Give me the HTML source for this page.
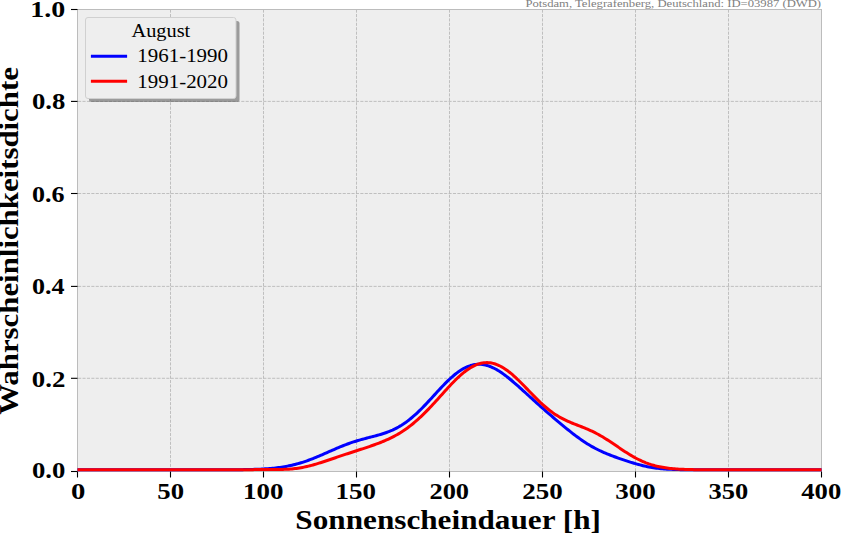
<!DOCTYPE html>
<html><head><meta charset="utf-8"><style>
html,body{margin:0;padding:0;background:#fff;width:841px;height:533px;overflow:hidden}
svg{display:block;position:absolute;left:0;top:0}
text{font-family:"Liberation Serif",serif}
</style></head><body>
<svg width="841" height="533" viewBox="0 0 841 533">
<rect x="0" y="0" width="841" height="533" fill="#ffffff"/>
<rect x="77.5" y="9.5" width="744" height="462" fill="#eeeeee"/>
<g stroke="#b2b2b2" stroke-width="0.8" stroke-dasharray="3.08,1.33" fill="none">
<line x1="170.5" y1="471.3" x2="170.5" y2="10" />
<line x1="263.5" y1="471.3" x2="263.5" y2="10" />
<line x1="356.5" y1="471.3" x2="356.5" y2="10" />
<line x1="449.5" y1="471.3" x2="449.5" y2="10" />
<line x1="542.5" y1="471.3" x2="542.5" y2="10" />
<line x1="635.5" y1="471.3" x2="635.5" y2="10" />
<line x1="728.5" y1="471.3" x2="728.5" y2="10" />
<line x1="78.1" y1="378.3" x2="821" y2="378.3" />
<line x1="78.1" y1="286.4" x2="821" y2="286.4" />
<line x1="78.1" y1="193.5" x2="821" y2="193.5" />
<line x1="78.1" y1="101.4" x2="821" y2="101.4" />
</g>
<rect x="77.5" y="9.5" width="744" height="462" fill="none" stroke="#bcbcbc" stroke-width="1"/>
<g stroke="#000" stroke-width="1.1">
<line x1="77.5" y1="471.5" x2="77.5" y2="477.5" />
<line x1="170.5" y1="471.5" x2="170.5" y2="477.5" />
<line x1="263.5" y1="471.5" x2="263.5" y2="477.5" />
<line x1="356.5" y1="471.5" x2="356.5" y2="477.5" />
<line x1="449.5" y1="471.5" x2="449.5" y2="477.5" />
<line x1="542.5" y1="471.5" x2="542.5" y2="477.5" />
<line x1="635.5" y1="471.5" x2="635.5" y2="477.5" />
<line x1="728.5" y1="471.5" x2="728.5" y2="477.5" />
<line x1="821.5" y1="471.5" x2="821.5" y2="477.5" />
<line x1="71" y1="471.5" x2="77.5" y2="471.5" />
<line x1="71" y1="378.3" x2="77.5" y2="378.3" />
<line x1="71" y1="286.4" x2="77.5" y2="286.4" />
<line x1="71" y1="193.5" x2="77.5" y2="193.5" />
<line x1="71" y1="101.4" x2="77.5" y2="101.4" />
<line x1="71" y1="9.5" x2="77.5" y2="9.5" />
</g>
<path d="M77.5,469.80 L79.0,469.80 L80.5,469.80 L82.0,469.80 L83.5,469.80 L85.0,469.80 L86.5,469.80 L88.0,469.80 L89.5,469.80 L91.0,469.80 L92.5,469.80 L94.0,469.80 L95.5,469.80 L97.0,469.80 L98.5,469.80 L100.0,469.80 L101.5,469.80 L103.0,469.80 L104.5,469.80 L106.0,469.80 L107.5,469.80 L109.0,469.80 L110.5,469.80 L112.0,469.80 L113.5,469.80 L115.0,469.80 L116.5,469.80 L118.0,469.80 L119.5,469.80 L121.0,469.80 L122.5,469.80 L124.0,469.80 L125.5,469.80 L127.0,469.80 L128.5,469.80 L130.0,469.80 L131.5,469.80 L133.0,469.80 L134.5,469.80 L136.0,469.80 L137.5,469.80 L139.0,469.80 L140.5,469.80 L142.0,469.80 L143.5,469.80 L145.0,469.80 L146.5,469.80 L148.0,469.80 L149.5,469.80 L151.0,469.80 L152.5,469.80 L154.0,469.80 L155.5,469.80 L157.0,469.80 L158.5,469.80 L160.0,469.80 L161.5,469.80 L163.0,469.80 L164.5,469.80 L166.0,469.80 L167.5,469.80 L169.0,469.80 L170.5,469.80 L172.0,469.80 L173.5,469.80 L175.0,469.80 L176.5,469.80 L178.0,469.80 L179.5,469.80 L181.0,469.80 L182.5,469.80 L184.0,469.80 L185.5,469.80 L187.0,469.80 L188.5,469.80 L190.0,469.80 L191.5,469.80 L193.0,469.80 L194.5,469.80 L196.0,469.80 L197.5,469.80 L199.0,469.80 L200.5,469.80 L202.0,469.80 L203.5,469.80 L205.0,469.80 L206.5,469.80 L208.0,469.79 L209.5,469.79 L211.0,469.79 L212.5,469.79 L214.0,469.79 L215.5,469.79 L217.0,469.79 L218.5,469.78 L220.0,469.78 L221.5,469.78 L223.0,469.77 L224.5,469.77 L226.0,469.76 L227.5,469.76 L229.0,469.75 L230.5,469.74 L232.0,469.74 L233.5,469.73 L235.0,469.72 L236.5,469.70 L238.0,469.69 L239.5,469.67 L241.0,469.66 L242.5,469.64 L244.0,469.62 L245.5,469.59 L247.0,469.56 L248.5,469.53 L250.0,469.50 L251.5,469.46 L253.0,469.42 L254.5,469.37 L256.0,469.32 L257.5,469.26 L259.0,469.20 L260.5,469.13 L262.0,469.05 L263.5,468.96 L265.0,468.87 L266.5,468.77 L268.0,468.66 L269.5,468.54 L271.0,468.41 L272.5,468.27 L274.0,468.12 L275.5,467.96 L277.0,467.78 L278.5,467.59 L280.0,467.38 L281.5,467.16 L283.0,466.93 L284.5,466.68 L286.0,466.41 L287.5,466.13 L289.0,465.83 L290.5,465.51 L292.0,465.18 L293.5,464.82 L295.0,464.45 L296.5,464.06 L298.0,463.65 L299.5,463.22 L301.0,462.77 L302.5,462.31 L304.0,461.82 L305.5,461.32 L307.0,460.80 L308.5,460.26 L310.0,459.71 L311.5,459.14 L313.0,458.56 L314.5,457.96 L316.0,457.35 L317.5,456.73 L319.0,456.10 L320.5,455.45 L322.0,454.81 L323.5,454.15 L325.0,453.49 L326.5,452.83 L328.0,452.16 L329.5,451.49 L331.0,450.83 L332.5,450.17 L334.0,449.51 L335.5,448.86 L337.0,448.22 L338.5,447.58 L340.0,446.96 L341.5,446.34 L343.0,445.74 L344.5,445.15 L346.0,444.58 L347.5,444.02 L349.0,443.47 L350.5,442.95 L352.0,442.43 L353.5,441.94 L355.0,441.45 L356.5,440.99 L358.0,440.53 L359.5,440.09 L361.0,439.67 L362.5,439.25 L364.0,438.84 L365.5,438.45 L367.0,438.05 L368.5,437.67 L370.0,437.28 L371.5,436.90 L373.0,436.51 L374.5,436.12 L376.0,435.72 L377.5,435.30 L379.0,434.88 L380.5,434.44 L382.0,433.98 L383.5,433.50 L385.0,433.00 L386.5,432.47 L388.0,431.91 L389.5,431.32 L391.0,430.70 L392.5,430.04 L394.0,429.34 L395.5,428.60 L397.0,427.82 L398.5,427.00 L400.0,426.13 L401.5,425.22 L403.0,424.26 L404.5,423.25 L406.0,422.20 L407.5,421.09 L409.0,419.95 L410.5,418.75 L412.0,417.51 L413.5,416.23 L415.0,414.90 L416.5,413.53 L418.0,412.13 L419.5,410.68 L421.0,409.20 L422.5,407.69 L424.0,406.16 L425.5,404.59 L427.0,403.00 L428.5,401.40 L430.0,399.78 L431.5,398.15 L433.0,396.51 L434.5,394.87 L436.0,393.23 L437.5,391.59 L439.0,389.97 L440.5,388.36 L442.0,386.77 L443.5,385.20 L445.0,383.66 L446.5,382.16 L448.0,380.69 L449.5,379.26 L451.0,377.87 L452.5,376.54 L454.0,375.26 L455.5,374.03 L457.0,372.87 L458.5,371.76 L460.0,370.73 L461.5,369.76 L463.0,368.87 L464.5,368.05 L466.0,367.30 L467.5,366.64 L469.0,366.05 L470.5,365.55 L472.0,365.13 L473.5,364.79 L475.0,364.54 L476.5,364.37 L478.0,364.28 L479.5,364.27 L481.0,364.35 L482.5,364.51 L484.0,364.75 L485.5,365.07 L487.0,365.46 L488.5,365.93 L490.0,366.47 L491.5,367.08 L493.0,367.76 L494.5,368.50 L496.0,369.30 L497.5,370.16 L499.0,371.08 L500.5,372.04 L502.0,373.06 L503.5,374.12 L505.0,375.22 L506.5,376.36 L508.0,377.54 L509.5,378.75 L511.0,379.98 L512.5,381.24 L514.0,382.53 L515.5,383.83 L517.0,385.15 L518.5,386.48 L520.0,387.82 L521.5,389.17 L523.0,390.53 L524.5,391.89 L526.0,393.25 L527.5,394.62 L529.0,395.99 L530.5,397.35 L532.0,398.71 L533.5,400.07 L535.0,401.42 L536.5,402.77 L538.0,404.12 L539.5,405.46 L541.0,406.79 L542.5,408.12 L544.0,409.44 L545.5,410.76 L547.0,412.07 L548.5,413.37 L550.0,414.67 L551.5,415.96 L553.0,417.25 L554.5,418.53 L556.0,419.81 L557.5,421.08 L559.0,422.34 L560.5,423.60 L562.0,424.85 L563.5,426.09 L565.0,427.32 L566.5,428.54 L568.0,429.75 L569.5,430.95 L571.0,432.14 L572.5,433.31 L574.0,434.46 L575.5,435.60 L577.0,436.72 L578.5,437.82 L580.0,438.89 L581.5,439.94 L583.0,440.97 L584.5,441.98 L586.0,442.95 L587.5,443.90 L589.0,444.83 L590.5,445.72 L592.0,446.59 L593.5,447.42 L595.0,448.23 L596.5,449.02 L598.0,449.77 L599.5,450.50 L601.0,451.21 L602.5,451.89 L604.0,452.55 L605.5,453.20 L607.0,453.82 L608.5,454.43 L610.0,455.02 L611.5,455.59 L613.0,456.16 L614.5,456.72 L616.0,457.26 L617.5,457.80 L619.0,458.33 L620.5,458.85 L622.0,459.37 L623.5,459.88 L625.0,460.38 L626.5,460.88 L628.0,461.37 L629.5,461.85 L631.0,462.32 L632.5,462.78 L634.0,463.24 L635.5,463.68 L637.0,464.10 L638.5,464.52 L640.0,464.92 L641.5,465.30 L643.0,465.67 L644.5,466.02 L646.0,466.35 L647.5,466.66 L649.0,466.96 L650.5,467.23 L652.0,467.49 L653.5,467.73 L655.0,467.95 L656.5,468.15 L658.0,468.34 L659.5,468.51 L661.0,468.66 L662.5,468.80 L664.0,468.92 L665.5,469.04 L667.0,469.14 L668.5,469.23 L670.0,469.30 L671.5,469.37 L673.0,469.43 L674.5,469.49 L676.0,469.53 L677.5,469.57 L679.0,469.61 L680.5,469.64 L682.0,469.66 L683.5,469.68 L685.0,469.70 L686.5,469.72 L688.0,469.73 L689.5,469.74 L691.0,469.75 L692.5,469.76 L694.0,469.77 L695.5,469.77 L697.0,469.78 L698.5,469.78 L700.0,469.78 L701.5,469.79 L703.0,469.79 L704.5,469.79 L706.0,469.79 L707.5,469.79 L709.0,469.79 L710.5,469.80 L712.0,469.80 L713.5,469.80 L715.0,469.80 L716.5,469.80 L718.0,469.80 L719.5,469.80 L721.0,469.80 L722.5,469.80 L724.0,469.80 L725.5,469.80 L727.0,469.80 L728.5,469.80 L730.0,469.80 L731.5,469.80 L733.0,469.80 L734.5,469.80 L736.0,469.80 L737.5,469.80 L739.0,469.80 L740.5,469.80 L742.0,469.80 L743.5,469.80 L745.0,469.80 L746.5,469.80 L748.0,469.80 L749.5,469.80 L751.0,469.80 L752.5,469.80 L754.0,469.80 L755.5,469.80 L757.0,469.80 L758.5,469.80 L760.0,469.80 L761.5,469.80 L763.0,469.80 L764.5,469.80 L766.0,469.80 L767.5,469.80 L769.0,469.80 L770.5,469.80 L772.0,469.80 L773.5,469.80 L775.0,469.80 L776.5,469.80 L778.0,469.80 L779.5,469.80 L781.0,469.80 L782.5,469.80 L784.0,469.80 L785.5,469.80 L787.0,469.80 L788.5,469.80 L790.0,469.80 L791.5,469.80 L793.0,469.80 L794.5,469.80 L796.0,469.80 L797.5,469.80 L799.0,469.80 L800.5,469.80 L802.0,469.80 L803.5,469.80 L805.0,469.80 L806.5,469.80 L808.0,469.80 L809.5,469.80 L811.0,469.80 L812.5,469.80 L814.0,469.80 L815.5,469.80 L817.0,469.80 L818.5,469.80 L820.0,469.80 L821.5,469.80" fill="none" stroke="#0000ff" stroke-width="3" stroke-linejoin="round"/>
<path d="M77.5,469.80 L79.0,469.80 L80.5,469.80 L82.0,469.80 L83.5,469.80 L85.0,469.80 L86.5,469.80 L88.0,469.80 L89.5,469.80 L91.0,469.80 L92.5,469.80 L94.0,469.80 L95.5,469.80 L97.0,469.80 L98.5,469.80 L100.0,469.80 L101.5,469.80 L103.0,469.80 L104.5,469.80 L106.0,469.80 L107.5,469.80 L109.0,469.80 L110.5,469.80 L112.0,469.80 L113.5,469.80 L115.0,469.80 L116.5,469.80 L118.0,469.80 L119.5,469.80 L121.0,469.80 L122.5,469.80 L124.0,469.80 L125.5,469.80 L127.0,469.80 L128.5,469.80 L130.0,469.80 L131.5,469.80 L133.0,469.80 L134.5,469.80 L136.0,469.80 L137.5,469.80 L139.0,469.80 L140.5,469.80 L142.0,469.80 L143.5,469.80 L145.0,469.80 L146.5,469.80 L148.0,469.80 L149.5,469.80 L151.0,469.80 L152.5,469.80 L154.0,469.80 L155.5,469.80 L157.0,469.80 L158.5,469.80 L160.0,469.80 L161.5,469.80 L163.0,469.80 L164.5,469.80 L166.0,469.80 L167.5,469.80 L169.0,469.80 L170.5,469.80 L172.0,469.80 L173.5,469.80 L175.0,469.80 L176.5,469.80 L178.0,469.80 L179.5,469.80 L181.0,469.80 L182.5,469.80 L184.0,469.80 L185.5,469.80 L187.0,469.80 L188.5,469.80 L190.0,469.80 L191.5,469.80 L193.0,469.80 L194.5,469.80 L196.0,469.80 L197.5,469.80 L199.0,469.80 L200.5,469.80 L202.0,469.79 L203.5,469.79 L205.0,469.79 L206.5,469.79 L208.0,469.79 L209.5,469.79 L211.0,469.79 L212.5,469.79 L214.0,469.78 L215.5,469.78 L217.0,469.78 L218.5,469.78 L220.0,469.77 L221.5,469.77 L223.0,469.77 L224.5,469.76 L226.0,469.76 L227.5,469.75 L229.0,469.75 L230.5,469.74 L232.0,469.74 L233.5,469.73 L235.0,469.72 L236.5,469.72 L238.0,469.71 L239.5,469.70 L241.0,469.69 L242.5,469.68 L244.0,469.68 L245.5,469.67 L247.0,469.66 L248.5,469.65 L250.0,469.64 L251.5,469.63 L253.0,469.63 L254.5,469.62 L256.0,469.62 L257.5,469.61 L259.0,469.61 L260.5,469.60 L262.0,469.60 L263.5,469.60 L265.0,469.60 L266.5,469.60 L268.0,469.60 L269.5,469.59 L271.0,469.59 L272.5,469.59 L274.0,469.58 L275.5,469.57 L277.0,469.55 L278.5,469.53 L280.0,469.51 L281.5,469.47 L283.0,469.43 L284.5,469.37 L286.0,469.31 L287.5,469.23 L289.0,469.13 L290.5,469.02 L292.0,468.89 L293.5,468.75 L295.0,468.58 L296.5,468.39 L298.0,468.19 L299.5,467.96 L301.0,467.71 L302.5,467.44 L304.0,467.14 L305.5,466.83 L307.0,466.50 L308.5,466.14 L310.0,465.77 L311.5,465.38 L313.0,464.97 L314.5,464.54 L316.0,464.10 L317.5,463.65 L319.0,463.19 L320.5,462.72 L322.0,462.24 L323.5,461.75 L325.0,461.25 L326.5,460.75 L328.0,460.25 L329.5,459.74 L331.0,459.24 L332.5,458.73 L334.0,458.22 L335.5,457.71 L337.0,457.20 L338.5,456.70 L340.0,456.19 L341.5,455.69 L343.0,455.19 L344.5,454.69 L346.0,454.19 L347.5,453.70 L349.0,453.21 L350.5,452.71 L352.0,452.23 L353.5,451.74 L355.0,451.25 L356.5,450.76 L358.0,450.28 L359.5,449.79 L361.0,449.30 L362.5,448.81 L364.0,448.32 L365.5,447.82 L367.0,447.32 L368.5,446.82 L370.0,446.31 L371.5,445.79 L373.0,445.27 L374.5,444.73 L376.0,444.19 L377.5,443.63 L379.0,443.06 L380.5,442.48 L382.0,441.88 L383.5,441.26 L385.0,440.63 L386.5,439.97 L388.0,439.29 L389.5,438.59 L391.0,437.87 L392.5,437.12 L394.0,436.34 L395.5,435.53 L397.0,434.69 L398.5,433.83 L400.0,432.93 L401.5,431.99 L403.0,431.02 L404.5,430.02 L406.0,428.98 L407.5,427.91 L409.0,426.79 L410.5,425.64 L412.0,424.46 L413.5,423.23 L415.0,421.97 L416.5,420.68 L418.0,419.34 L419.5,417.98 L421.0,416.57 L422.5,415.14 L424.0,413.67 L425.5,412.18 L427.0,410.65 L428.5,409.10 L430.0,407.53 L431.5,405.93 L433.0,404.32 L434.5,402.69 L436.0,401.04 L437.5,399.39 L439.0,397.72 L440.5,396.06 L442.0,394.39 L443.5,392.73 L445.0,391.07 L446.5,389.43 L448.0,387.80 L449.5,386.18 L451.0,384.59 L452.5,383.03 L454.0,381.50 L455.5,380.00 L457.0,378.54 L458.5,377.12 L460.0,375.75 L461.5,374.43 L463.0,373.16 L464.5,371.95 L466.0,370.80 L467.5,369.71 L469.0,368.69 L470.5,367.74 L472.0,366.87 L473.5,366.07 L475.0,365.35 L476.5,364.71 L478.0,364.15 L479.5,363.68 L481.0,363.29 L482.5,362.99 L484.0,362.78 L485.5,362.66 L487.0,362.62 L488.5,362.68 L490.0,362.83 L491.5,363.06 L493.0,363.38 L494.5,363.79 L496.0,364.28 L497.5,364.86 L499.0,365.52 L500.5,366.26 L502.0,367.08 L503.5,367.98 L505.0,368.94 L506.5,369.98 L508.0,371.08 L509.5,372.24 L511.0,373.46 L512.5,374.73 L514.0,376.05 L515.5,377.42 L517.0,378.82 L518.5,380.27 L520.0,381.74 L521.5,383.24 L523.0,384.77 L524.5,386.31 L526.0,387.86 L527.5,389.41 L529.0,390.97 L530.5,392.53 L532.0,394.08 L533.5,395.61 L535.0,397.13 L536.5,398.63 L538.0,400.11 L539.5,401.56 L541.0,402.97 L542.5,404.35 L544.0,405.70 L545.5,407.00 L547.0,408.26 L548.5,409.48 L550.0,410.65 L551.5,411.78 L553.0,412.86 L554.5,413.90 L556.0,414.89 L557.5,415.83 L559.0,416.73 L560.5,417.59 L562.0,418.41 L563.5,419.19 L565.0,419.93 L566.5,420.65 L568.0,421.33 L569.5,421.99 L571.0,422.62 L572.5,423.24 L574.0,423.84 L575.5,424.43 L577.0,425.01 L578.5,425.59 L580.0,426.17 L581.5,426.75 L583.0,427.34 L584.5,427.94 L586.0,428.56 L587.5,429.20 L589.0,429.85 L590.5,430.52 L592.0,431.22 L593.5,431.94 L595.0,432.69 L596.5,433.47 L598.0,434.27 L599.5,435.10 L601.0,435.95 L602.5,436.83 L604.0,437.74 L605.5,438.66 L607.0,439.61 L608.5,440.58 L610.0,441.56 L611.5,442.55 L613.0,443.56 L614.5,444.57 L616.0,445.59 L617.5,446.61 L619.0,447.63 L620.5,448.65 L622.0,449.66 L623.5,450.65 L625.0,451.64 L626.5,452.60 L628.0,453.55 L629.5,454.48 L631.0,455.38 L632.5,456.26 L634.0,457.11 L635.5,457.94 L637.0,458.73 L638.5,459.49 L640.0,460.22 L641.5,460.92 L643.0,461.58 L644.5,462.21 L646.0,462.81 L647.5,463.37 L649.0,463.91 L650.5,464.41 L652.0,464.87 L653.5,465.31 L655.0,465.72 L656.5,466.09 L658.0,466.44 L659.5,466.77 L661.0,467.07 L662.5,467.34 L664.0,467.59 L665.5,467.82 L667.0,468.03 L668.5,468.23 L670.0,468.40 L671.5,468.56 L673.0,468.70 L674.5,468.83 L676.0,468.94 L677.5,469.04 L679.0,469.14 L680.5,469.22 L682.0,469.29 L683.5,469.36 L685.0,469.41 L686.5,469.46 L688.0,469.51 L689.5,469.55 L691.0,469.58 L692.5,469.61 L694.0,469.64 L695.5,469.66 L697.0,469.68 L698.5,469.70 L700.0,469.71 L701.5,469.73 L703.0,469.74 L704.5,469.75 L706.0,469.75 L707.5,469.76 L709.0,469.77 L710.5,469.77 L712.0,469.78 L713.5,469.78 L715.0,469.78 L716.5,469.79 L718.0,469.79 L719.5,469.79 L721.0,469.79 L722.5,469.79 L724.0,469.79 L725.5,469.80 L727.0,469.80 L728.5,469.80 L730.0,469.80 L731.5,469.80 L733.0,469.80 L734.5,469.80 L736.0,469.80 L737.5,469.80 L739.0,469.80 L740.5,469.80 L742.0,469.80 L743.5,469.80 L745.0,469.80 L746.5,469.80 L748.0,469.80 L749.5,469.80 L751.0,469.80 L752.5,469.80 L754.0,469.80 L755.5,469.80 L757.0,469.80 L758.5,469.80 L760.0,469.80 L761.5,469.80 L763.0,469.80 L764.5,469.80 L766.0,469.80 L767.5,469.80 L769.0,469.80 L770.5,469.80 L772.0,469.80 L773.5,469.80 L775.0,469.80 L776.5,469.80 L778.0,469.80 L779.5,469.80 L781.0,469.80 L782.5,469.80 L784.0,469.80 L785.5,469.80 L787.0,469.80 L788.5,469.80 L790.0,469.80 L791.5,469.80 L793.0,469.80 L794.5,469.80 L796.0,469.80 L797.5,469.80 L799.0,469.80 L800.5,469.80 L802.0,469.80 L803.5,469.80 L805.0,469.80 L806.5,469.80 L808.0,469.80 L809.5,469.80 L811.0,469.80 L812.5,469.80 L814.0,469.80 L815.5,469.80 L817.0,469.80 L818.5,469.80 L820.0,469.80 L821.5,469.80" fill="none" stroke="#ff0000" stroke-width="3" stroke-linejoin="round"/>
<rect x="89" y="21" width="150.5" height="81" rx="2.5" fill="#474747" fill-opacity="0.5"/>
<rect x="85.5" y="17.5" width="150.5" height="81" rx="2.5" fill="#eeeeee" stroke="#d0d0d0" stroke-width="1"/>
<line x1="90.9" y1="56.2" x2="127.1" y2="56.2" stroke="#0000ff" stroke-width="3"/>
<line x1="90.9" y1="81.2" x2="127.1" y2="81.2" stroke="#ff0000" stroke-width="3"/>
<text id="y0.0" x="31.94" y="478.40" font-size="22.6" font-weight="bold" fill="#000" textLength="33.38" lengthAdjust="spacingAndGlyphs">0.0</text>
<text id="y0.2" x="31.78" y="386.90" font-size="22.6" font-weight="bold" fill="#000" textLength="33.54" lengthAdjust="spacingAndGlyphs">0.2</text>
<text id="y0.4" x="31.94" y="293.80" font-size="22.6" font-weight="bold" fill="#000" textLength="32.58" lengthAdjust="spacingAndGlyphs">0.4</text>
<text id="y0.6" x="31.94" y="201.50" font-size="22.6" font-weight="bold" fill="#000" textLength="32.58" lengthAdjust="spacingAndGlyphs">0.6</text>
<text id="y0.8" x="31.94" y="109.40" font-size="22.6" font-weight="bold" fill="#000" textLength="33.38" lengthAdjust="spacingAndGlyphs">0.8</text>
<text id="y1.0" x="30.34" y="16.90" font-size="22.6" font-weight="bold" fill="#000" textLength="34.98" lengthAdjust="spacingAndGlyphs">1.0</text>
<text id="x0" x="71.03" y="498.60" font-size="22.6" font-weight="bold" fill="#000" textLength="14.38" lengthAdjust="spacingAndGlyphs">0</text>
<text id="x50" x="157.30" y="498.60" font-size="22.6" font-weight="bold" fill="#000" textLength="26.72" lengthAdjust="spacingAndGlyphs">50</text>
<text id="x100" x="243.11" y="498.60" font-size="22.6" font-weight="bold" fill="#000" textLength="40.46" lengthAdjust="spacingAndGlyphs">100</text>
<text id="x150" x="335.63" y="498.60" font-size="22.6" font-weight="bold" fill="#000" textLength="40.46" lengthAdjust="spacingAndGlyphs">150</text>
<text id="x200" x="429.43" y="498.60" font-size="22.6" font-weight="bold" fill="#000" textLength="39.66" lengthAdjust="spacingAndGlyphs">200</text>
<text id="x250" x="522.27" y="498.60" font-size="22.6" font-weight="bold" fill="#000" textLength="40.46" lengthAdjust="spacingAndGlyphs">250</text>
<text id="x300" x="615.27" y="498.60" font-size="22.6" font-weight="bold" fill="#000" textLength="40.46" lengthAdjust="spacingAndGlyphs">300</text>
<text id="x350" x="708.59" y="498.60" font-size="22.6" font-weight="bold" fill="#000" textLength="39.66" lengthAdjust="spacingAndGlyphs">350</text>
<text id="x400" x="801.27" y="498.60" font-size="22.6" font-weight="bold" fill="#000" textLength="39.98" lengthAdjust="spacingAndGlyphs">400</text>
<text id="xlabel" x="295.38" y="528.70" font-size="26.5" font-weight="bold" fill="#000" textLength="305.52" lengthAdjust="spacingAndGlyphs">Sonnenscheindauer [h]</text>
<text id="August" x="131.46" y="36.70" font-size="18" fill="#000" textLength="58.82" lengthAdjust="spacingAndGlyphs">August</text>
<text id="l1" x="137.34" y="62.30" font-size="19" fill="#000" textLength="90.68" lengthAdjust="spacingAndGlyphs">1961-1990</text>
<text id="l2" x="137.34" y="87.80" font-size="19" fill="#000" textLength="90.68" lengthAdjust="spacingAndGlyphs">1991-2020</text>
<text id="top" x="525.42" y="7.00" font-size="9.8" fill="#808080" textLength="295.62" lengthAdjust="spacingAndGlyphs">Potsdam, Telegrafenberg, Deutschland: ID=03987 (DWD)</text>
<text transform="translate(18,414.75) rotate(-90)" x="0" y="0" font-weight="bold" font-size="26.5" textLength="347.65" lengthAdjust="spacingAndGlyphs">Wahrscheinlichkeitsdichte</text>
</svg>
</body></html>
